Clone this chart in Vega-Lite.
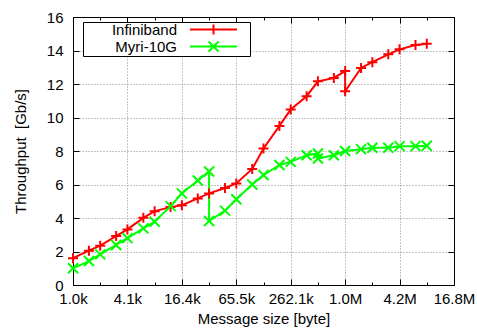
{
  "$schema": "https://vega.github.io/schema/vega-lite/v6.json",
  "width": 381,
  "height": 268,
  "autosize": {"type": "none"},
  "padding": {"left": 73, "top": 17, "right": 23, "bottom": 49},
  "background": "white",
  "config": {
    "font": "Liberation Sans",
    "view": {"stroke": "black", "strokeWidth": 1},
    "axis": {"labelFont": "Liberation Sans", "titleFont": "Liberation Sans", "labelFontSize": 15, "titleFontSize": 15, "titleFontWeight": "normal", "labelColor": "black", "titleColor": "black", "domainColor": "black", "tickColor": "black", "gridColor": "#888888", "gridDash": [1, 2], "gridOpacity": 1}
  },
  "data": {"values": [
    {"s": "Infiniband", "i": 1, "x": 1024, "y": 1.6},
    {"s": "Infiniband", "i": 2, "x": 1536, "y": 2.05},
    {"s": "Infiniband", "i": 3, "x": 2048, "y": 2.35},
    {"s": "Infiniband", "i": 4, "x": 3072, "y": 2.92},
    {"s": "Infiniband", "i": 5, "x": 4096, "y": 3.32},
    {"s": "Infiniband", "i": 6, "x": 6144, "y": 4.01},
    {"s": "Infiniband", "i": 7, "x": 8192, "y": 4.41},
    {"s": "Infiniband", "i": 8, "x": 12288, "y": 4.65},
    {"s": "Infiniband", "i": 9, "x": 16384, "y": 4.76},
    {"s": "Infiniband", "i": 10, "x": 24576, "y": 5.17},
    {"s": "Infiniband", "i": 11, "x": 32768, "y": 5.47},
    {"s": "Infiniband", "i": 12, "x": 49152, "y": 5.79},
    {"s": "Infiniband", "i": 13, "x": 65536, "y": 6.06},
    {"s": "Infiniband", "i": 14, "x": 98304, "y": 6.93},
    {"s": "Infiniband", "i": 15, "x": 131072, "y": 8.15},
    {"s": "Infiniband", "i": 16, "x": 196608, "y": 9.5},
    {"s": "Infiniband", "i": 17, "x": 262144, "y": 10.48},
    {"s": "Infiniband", "i": 18, "x": 393216, "y": 11.27},
    {"s": "Infiniband", "i": 19, "x": 524288, "y": 12.16},
    {"s": "Infiniband", "i": 20, "x": 786432, "y": 12.36},
    {"s": "Infiniband", "i": 21, "x": 1048576, "y": 12.77},
    {"s": "Infiniband", "i": 22, "x": 1048576, "y": 11.57},
    {"s": "Infiniband", "i": 23, "x": 1572864, "y": 12.96},
    {"s": "Infiniband", "i": 24, "x": 2097152, "y": 13.3},
    {"s": "Infiniband", "i": 25, "x": 3145728, "y": 13.77},
    {"s": "Infiniband", "i": 26, "x": 4194304, "y": 14.07},
    {"s": "Infiniband", "i": 27, "x": 6291456, "y": 14.33},
    {"s": "Infiniband", "i": 28, "x": 8388608, "y": 14.41},
    {"s": "Myri-10G", "i": 1, "x": 1024, "y": 1.0},
    {"s": "Myri-10G", "i": 2, "x": 1536, "y": 1.43},
    {"s": "Myri-10G", "i": 3, "x": 2048, "y": 1.83},
    {"s": "Myri-10G", "i": 4, "x": 3072, "y": 2.39},
    {"s": "Myri-10G", "i": 5, "x": 4096, "y": 2.8},
    {"s": "Myri-10G", "i": 6, "x": 6144, "y": 3.38},
    {"s": "Myri-10G", "i": 7, "x": 8192, "y": 3.78},
    {"s": "Myri-10G", "i": 8, "x": 12288, "y": 4.71},
    {"s": "Myri-10G", "i": 9, "x": 16384, "y": 5.47},
    {"s": "Myri-10G", "i": 10, "x": 24576, "y": 6.24},
    {"s": "Myri-10G", "i": 11, "x": 32768, "y": 6.78},
    {"s": "Myri-10G", "i": 12, "x": 32768, "y": 3.82},
    {"s": "Myri-10G", "i": 13, "x": 49152, "y": 4.44},
    {"s": "Myri-10G", "i": 14, "x": 65536, "y": 5.12},
    {"s": "Myri-10G", "i": 15, "x": 98304, "y": 6.0},
    {"s": "Myri-10G", "i": 16, "x": 131072, "y": 6.57},
    {"s": "Myri-10G", "i": 17, "x": 196608, "y": 7.16},
    {"s": "Myri-10G", "i": 18, "x": 262144, "y": 7.35},
    {"s": "Myri-10G", "i": 19, "x": 393216, "y": 7.75},
    {"s": "Myri-10G", "i": 20, "x": 524288, "y": 7.85},
    {"s": "Myri-10G", "i": 21, "x": 524288, "y": 7.55},
    {"s": "Myri-10G", "i": 22, "x": 786432, "y": 7.75},
    {"s": "Myri-10G", "i": 23, "x": 1048576, "y": 8.0},
    {"s": "Myri-10G", "i": 24, "x": 1572864, "y": 8.11},
    {"s": "Myri-10G", "i": 25, "x": 2097152, "y": 8.19},
    {"s": "Myri-10G", "i": 26, "x": 3145728, "y": 8.19},
    {"s": "Myri-10G", "i": 27, "x": 4194304, "y": 8.29},
    {"s": "Myri-10G", "i": 28, "x": 6291456, "y": 8.29},
    {"s": "Myri-10G", "i": 29, "x": 8388608, "y": 8.31}
  ]},
  "resolve": {"axis": {"x": "independent", "y": "independent"}},
  "layer": [
    {
      "mark": {"type": "line", "strokeWidth": 2, "clip": true},
      "encoding": {
        "x": {"field": "x", "type": "quantitative", "scale": {"type": "log", "base": 2, "domain": [1024, 16777216], "nice": false},
          "axis": {"orient": "bottom", "values": [1024, 4096, 16384, 65536, 262144, 1048576, 4194304, 16777216], "labelExpr": "datum.value < 1000000 ? format(datum.value/1000, '.1f') + 'k' : format(datum.value/1000000, '.1f') + 'M'", "tickSize": -6, "labelPadding": 12, "grid": true, "title": "Message size [byte]", "titlePadding": 5, "labelFlush": false, "labelOverlap": false}},
        "y": {"field": "y", "type": "quantitative", "scale": {"domain": [0, 16], "nice": false},
          "axis": {"orient": "left", "values": [0, 2, 4, 6, 8, 10, 12, 14, 16], "tickSize": -6, "labelPadding": 16, "grid": true, "title": "Throughput\u00a0\u00a0[Gb/s]", "titlePadding": 18, "labelFlush": false}},
        "color": {"field": "s", "type": "nominal", "scale": {"domain": ["Infiniband", "Myri-10G"], "range": ["#ff0000", "#00ff00"]},
          "legend": {"orient": "none", "legendX": 10, "legendY": 5, "title": null, "labelFont": "Liberation Sans", "labelFontSize": 15, "labelColor": "black", "labelAlign": "right", "labelOffset": -44, "symbolOffset": 123, "symbolType": "M-4.7,0H4.7", "symbolSize": 100, "symbolStrokeWidth": 2, "symbolFillColor": "transparent", "strokeColor": "black", "fillColor": "white", "padding": 0, "rowPadding": -5,
            "encode": {"symbols": {"update": {"shape": {"signal": "datum.value == 'Infiniband' ? 'M-4.7,0H4.7M0,-1V1M6.5,0' : 'M-4.7,0H4.7M-1,-1L1,1M-1,1L1,-1M6.5,0'"}, "fill": {"value": "transparent"}}}}}},
        "order": {"field": "i", "type": "quantitative"}
      }
    },
    {
      "transform": [{"filter": "datum.s == 'Infiniband'"}],
      "mark": {"type": "point", "filled": false, "strokeWidth": 2, "size": 100, "opacity": 1, "color": "#ff0000", "shape": "M-1,0H1M0,-1V1"},
      "encoding": {
        "x": {"field": "x", "type": "quantitative", "scale": {"type": "log", "base": 2, "domain": [1024, 16777216], "nice": false},
          "axis": {"orient": "bottom", "values": [2048, 8192, 32768, 131072, 524288, 2097152, 8388608], "tickSize": -3, "labels": false, "domain": false, "grid": false, "title": null}},
        "y": {"field": "y", "type": "quantitative", "scale": {"domain": [0, 16], "nice": false},
          "axis": {"orient": "right", "values": [0, 2, 4, 6, 8, 10, 12, 14, 16], "tickSize": -6, "labels": false, "grid": false, "title": null}}
      }
    },
    {
      "transform": [{"filter": "datum.s == 'Myri-10G'"}],
      "mark": {"type": "point", "filled": false, "strokeWidth": 2, "size": 100, "opacity": 1, "color": "#00ff00", "shape": "M-1,-1L1,1M-1,1L1,-1"},
      "encoding": {
        "x": {"field": "x", "type": "quantitative", "scale": {"type": "log", "base": 2, "domain": [1024, 16777216], "nice": false},
          "axis": {"orient": "top", "values": [1024, 4096, 16384, 65536, 262144, 1048576, 4194304, 16777216], "tickSize": -6, "labels": false, "grid": false, "title": null}},
        "y": {"field": "y", "type": "quantitative", "scale": {"domain": [0, 16], "nice": false}, "axis": null}
      }
    },
    {
      "mark": {"type": "line", "opacity": 0},
      "encoding": {
        "x": {"field": "x", "type": "quantitative", "scale": {"type": "log", "base": 2, "domain": [1024, 16777216], "nice": false},
          "axis": {"orient": "top", "values": [2048, 8192, 32768, 131072, 524288, 2097152, 8388608], "tickSize": -3, "labels": false, "domain": false, "grid": false, "title": null}},
        "y": {"field": "y", "type": "quantitative", "scale": {"domain": [0, 16], "nice": false}, "axis": null},
        "detail": {"field": "s"}
      }
    }
  ]
}
